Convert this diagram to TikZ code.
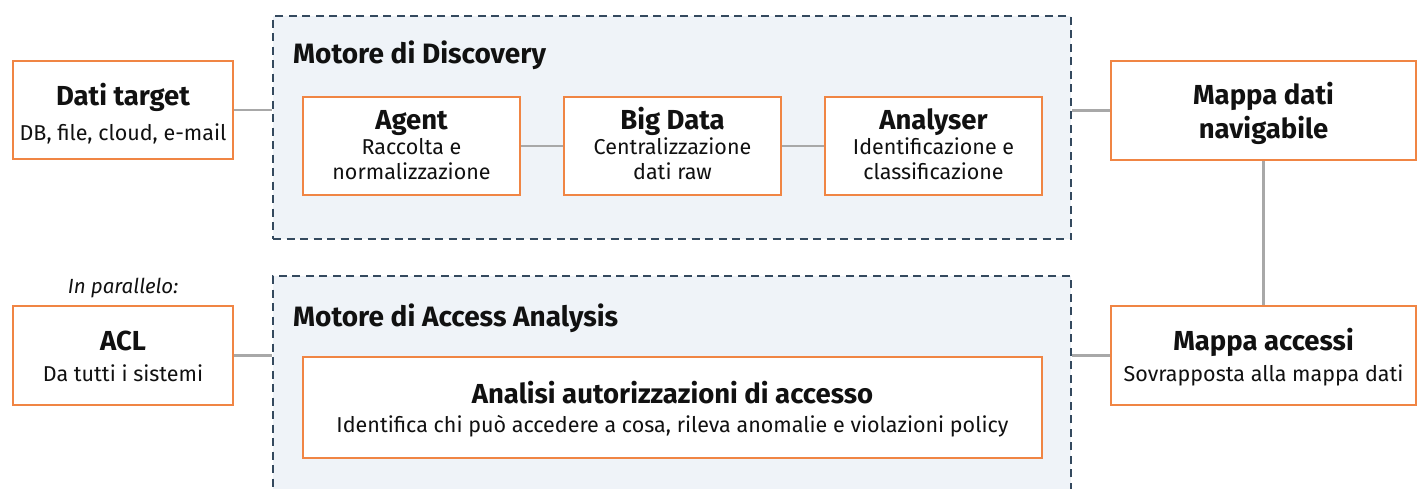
\documentclass[tikz,border=0pt]{standalone}
\usepackage{fontspec}
\setmainfont{Fira Sans}
\definecolor{boxorange}{RGB}{240,133,68}
\definecolor{contfill}{RGB}{239,243,248}
\definecolor{contdash}{RGB}{52,73,94}
\definecolor{conngray}{RGB}{168,168,168}
\definecolor{txt}{RGB}{17,17,17}
\newcommand{\ttl}{\fontsize{27.5}{30}\selectfont\bfseries}
\newcommand{\sbt}{\fontsize{21.5}{24}\selectfont}
\newcommand{\hdg}{\fontsize{28}{30}\selectfont\bfseries}
\begin{document}
\begin{tikzpicture}[x=1pt,y=-1pt,
  cont/.style={draw=contdash, fill=contfill, line width=2.2pt, dash pattern=on 8pt off 5.5pt, anchor=north west, inner sep=0pt},
  card/.style={draw=boxorange, fill=white, line width=2pt, anchor=north west, inner sep=0pt, align=center, text=txt},
  conn/.style={draw=conngray, line width=2.5pt},
  lbl/.style={text=txt, inner sep=0pt}]
\useasboundingbox (0,0) rectangle (1418,489);
% containers
\node[cont, minimum width=798pt, minimum height=223pt] (disc) at (272,15) {};
\node[cont, minimum width=798pt, minimum height=240pt] (acc) at (272,275) {};
\node[lbl, anchor=base west, font=\hdg] (discT) at (293,64) {Motore di Discovery};
\node[lbl, anchor=base west, font=\hdg] (accT) at (293,326) {Motore di Access Analysis};
% left cards
\node[card, minimum width=220pt, minimum height=98pt] (dati) at (12,60) {};
\node[lbl, anchor=base, font=\ttl] (datiT) at (dati.north |- 0,106) {Dati target};
\node[lbl, anchor=base, font=\sbt] (datiS) at (dati.north |- 0,141) {DB, file, cloud, e-mail};
\node[card, minimum width=220pt, minimum height=99pt] (acl) at (12,305) {};
\node[lbl, anchor=base, font=\ttl] (aclT) at (acl.north |- 0,350) {ACL};
\node[lbl, anchor=base, font=\sbt] (aclS) at (acl.north |- 0,381) {Da tutti i sistemi};
\node[lbl, anchor=base, font=\fontsize{20.5}{24}\selectfont\itshape] (par) at (acl.north |- 0,293) {In parallelo:};
% discovery cards
\node[card, minimum width=217pt, minimum height=98pt] (agent) at (302,96) {};
\node[card, minimum width=217pt, minimum height=98pt] (big) at (563,96) {};
\node[card, minimum width=217pt, minimum height=98pt] (anal) at (824,96) {};
\foreach \n/\t/\a/\b in {agent/Agent/Raccolta e/normalizzazione, big/Big Data/Centralizzazione/dati raw, anal/Analyser/Identificazione e/classificazione}{
  \node[lbl, anchor=base, font=\ttl] (\n T) at (\n.north |- 0,130) {\t};
  \node[lbl, anchor=base, font=\sbt] (\n A) at (\n.north |- 0,155) {\a};
  \node[lbl, anchor=base, font=\sbt] (\n B) at (\n.north |- 0,179) {\b};
}
% access card
\node[card, minimum width=739pt, minimum height=101pt] (auth) at (302,356) {};
\node[lbl, anchor=base, font=\ttl] (authT) at (auth.north |- 0,403) {Analisi autorizzazioni di accesso};
\node[lbl, anchor=base, font=\sbt] (authS) at (auth.north |- 0,432) {Identifica chi può accedere a cosa, rileva anomalie e violazioni policy};
% right cards
\node[card, minimum width=305pt, minimum height=99pt] (mdati) at (1110,60) {};
\node[lbl, anchor=base, font=\ttl] (mdatiA) at (mdati.north |- 0,105) {Mappa dati};
\node[lbl, anchor=base, font=\ttl] (mdatiB) at (mdati.north |- 0,139) {navigabile};
\node[card, minimum width=305pt, minimum height=99pt] (macc) at (1110,305) {};
\node[lbl, anchor=base, font=\ttl] (maccT) at (macc.north |- 0,350) {Mappa accessi};
\node[lbl, anchor=base, font=\sbt] (maccS) at (macc.north |- 0,381) {Sovrapposta alla mappa dati};
% connectors
\draw[conn] (dati.east) -- (dati.east -| disc.west);
\draw[conn] (agent.east) -- (big.west);
\draw[conn] (big.east) -- (anal.west);
\draw[conn] (disc.east |- mdati.west) -- (mdati.west);
\draw[conn] (mdati.south) -- (macc.north);
\draw[conn] (acl.east) -- (acl.east -| acc.west);
\draw[conn] (acc.east |- macc.west) -- (macc.west);
\end{tikzpicture}
\end{document}
